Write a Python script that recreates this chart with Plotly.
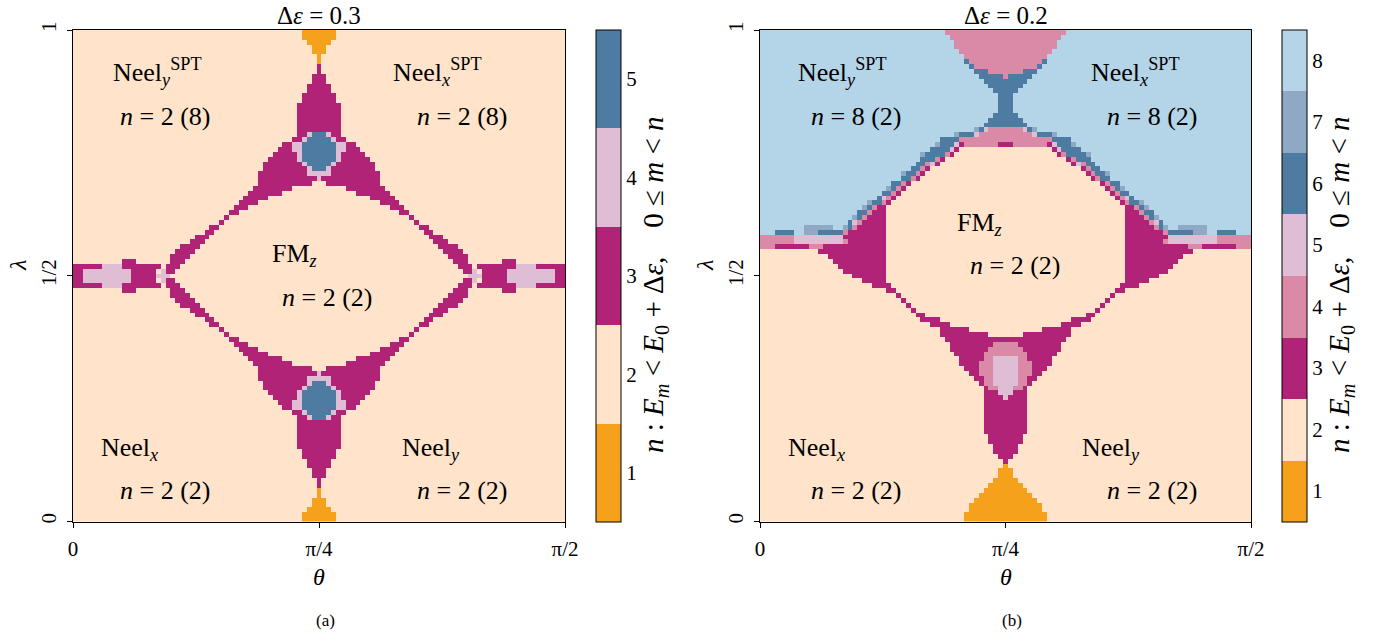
import numpy as np
import plotly.graph_objects as go

# ---------------- data (run-length rows, top row = lambda 1, "value x count") -------------
N_CELLS = 101
THETA_MAX = np.pi / 2

A_ROWS = [
    "2x47 1x7 2x47", "2x47 1x7 2x47", "2x48 1x5 2x48", "2x49 1x3 2x49", "2x49 1x3 2x49",
    "2x50 1x1 2x50", "2x50 1x1 2x50", "2x50 3x1 2x50", "2x50 3x1 2x50", "2x49 3x3 2x49",
    "2x49 3x3 2x49", "2x48 3x5 2x48", "2x48 3x5 2x48", "2x47 3x7 2x47", "2x47 3x7 2x47",
    "2x46 3x9 2x46", "2x46 3x9 2x46", "2x46 3x9 2x46", "2x46 3x9 2x46", "2x46 3x9 2x46",
    "2x46 3x9 2x46",
    "2x46 3x2 4x1 5x3 4x1 3x2 2x46",
    "2x45 3x2 4x1 5x5 4x1 3x2 2x45",
    "2x43 3x2 4x2 5x7 4x2 3x2 2x43",
    "2x42 3x3 4x2 5x7 4x2 3x3 2x42",
    "2x41 3x5 4x1 5x7 4x1 3x5 2x41",
    "2x40 3x6 4x1 5x7 4x1 3x6 2x40",
    "2x39 3x8 4x1 5x5 4x1 3x8 2x39",
    "2x39 3x9 4x1 5x3 4x1 3x9 2x39",
    "2x38 3x10 4x5 3x10 2x38",
    "2x38 3x12 4x1 3x12 2x38",
    "2x38 3x11 2x3 3x11 2x38",
    "2x37 3x8 2x11 3x8 2x37",
    "2x36 3x7 2x15 3x7 2x36",
    "2x35 3x5 2x21 3x5 2x35",
    "2x34 3x4 2x25 3x4 2x34",
    "2x33 3x3 2x29 3x3 2x33",
    "2x32 3x2 2x33 3x2 2x32",
    "2x31 3x1 2x37 3x1 2x31",
    "2x30 3x1 2x39 3x1 2x30",
    "2x28 3x2 2x41 3x2 2x28",
    "2x27 3x2 2x43 3x2 2x27",
    "2x25 3x3 2x45 3x3 2x25",
    "2x24 3x3 2x47 3x3 2x24",
    "2x22 3x4 2x49 3x4 2x22",
    "2x21 3x4 2x51 3x4 2x21",
    "2x20 3x4 2x53 3x4 2x20",
    "2x10 3x3 2x7 3x3 2x55 3x3 2x7 3x3 2x10",
    "3x6 4x4 3x8 2x1 3x3 2x57 3x3 2x1 3x8 4x4 3x6",
    "3x2 4x10 3x5 2x1 4x1 3x2 2x59 3x2 4x1 2x1 3x5 4x10 3x2",
    "3x2 4x10 3x5 4x3 2x61 4x3 3x5 4x10 3x2",
    "3x2 4x10 3x5 2x1 4x1 3x2 2x59 3x2 4x1 2x1 3x5 4x10 3x2",
    "3x6 4x4 3x8 2x1 3x3 2x57 3x3 2x1 3x8 4x4 3x6",
    "2x10 3x3 2x7 3x3 2x55 3x3 2x7 3x3 2x10",
    "2x20 3x4 2x53 3x4 2x20",
    "2x21 3x4 2x51 3x4 2x21",
    "2x22 3x4 2x49 3x4 2x22",
    "2x24 3x3 2x47 3x3 2x24",
    "2x25 3x3 2x45 3x3 2x25",
    "2x27 3x2 2x43 3x2 2x27",
    "2x28 3x2 2x41 3x2 2x28",
    "2x30 3x1 2x39 3x1 2x30",
    "2x31 3x1 2x37 3x1 2x31",
    "2x32 3x2 2x33 3x2 2x32",
    "2x33 3x3 2x29 3x3 2x33",
    "2x34 3x4 2x25 3x4 2x34",
    "2x35 3x5 2x21 3x5 2x35",
    "2x36 3x7 2x15 3x7 2x36",
    "2x37 3x8 2x11 3x8 2x37",
    "2x38 3x11 2x3 3x11 2x38",
    "2x38 3x12 4x1 3x12 2x38",
    "2x38 3x10 4x5 3x10 2x38",
    "2x39 3x9 4x1 5x3 4x1 3x9 2x39",
    "2x39 3x8 4x1 5x5 4x1 3x8 2x39",
    "2x40 3x6 4x1 5x7 4x1 3x6 2x40",
    "2x41 3x5 4x1 5x7 4x1 3x5 2x41",
    "2x42 3x3 4x2 5x7 4x2 3x3 2x42",
    "2x43 3x2 4x2 5x7 4x2 3x2 2x43",
    "2x45 3x2 4x1 5x5 4x1 3x2 2x45",
    "2x46 3x2 4x1 5x3 4x1 3x2 2x46",
    "2x46 3x9 2x46", "2x46 3x9 2x46", "2x46 3x9 2x46", "2x46 3x9 2x46", "2x46 3x9 2x46",
    "2x46 3x9 2x46",
    "2x47 3x7 2x47", "2x47 3x7 2x47", "2x48 3x5 2x48", "2x48 3x5 2x48", "2x49 3x3 2x49",
    "2x49 3x3 2x49", "2x50 3x1 2x50", "2x50 3x1 2x50", "2x50 1x1 2x50", "2x50 1x1 2x50",
    "2x49 1x3 2x49", "2x49 1x3 2x49", "2x48 1x5 2x48", "2x47 1x7 2x47", "2x47 1x7 2x47",
]

B_ROWS = [
    "8x38 4x25 8x38", "8x39 4x23 8x39", "8x40 4x21 8x40", "8x40 4x21 8x40", "8x41 4x19 8x41",
    "8x42 4x17 8x42",
    "8x42 6x1 4x15 6x1 8x42",
    "8x43 6x1 4x13 6x1 8x43",
    "8x44 6x3 4x7 6x3 8x44",
    "8x45 6x5 4x1 6x5 8x45",
    "8x46 6x9 8x46", "8x47 6x7 8x47", "8x48 6x5 8x48",
    "8x49 6x3 8x49", "8x49 6x3 8x49", "8x49 6x3 8x49", "8x49 6x3 8x49",
    "8x48 6x5 8x48", "8x47 6x7 8x47", "8x46 6x9 8x46",
    "8x44 7x1 6x1 5x1 4x7 5x1 6x1 7x1 8x44",
    "8x40 7x1 6x3 5x1 4x11 5x1 6x3 7x1 8x40",
    "8x37 6x4 4x19 6x4 8x37",
    "8x36 7x1 6x3 5x1 3x1 4x7 3x3 4x7 3x1 5x1 6x3 7x1 8x36",
    "8x35 6x4 5x1 3x1 2x19 3x1 5x1 6x4 8x35",
    "8x33 7x1 6x4 4x1 3x1 2x21 3x1 4x1 6x4 7x1 8x33",
    "8x33 6x3 4x1 3x1 2x25 3x1 4x1 6x3 8x33",
    "8x32 6x2 4x1 5x1 3x1 2x27 3x1 5x1 4x1 6x2 8x32",
    "8x31 6x2 4x1 3x1 2x31 3x1 4x1 6x2 8x31",
    "8x29 7x1 6x2 4x1 3x1 2x33 3x1 4x1 6x2 7x1 8x29",
    "8x29 6x2 4x1 3x1 2x35 3x1 4x1 6x2 8x29",
    "8x27 6x2 4x1 3x1 2x39 3x1 4x1 6x2 8x27",
    "8x26 7x1 6x1 4x1 3x1 2x41 3x1 4x1 6x1 7x1 8x26",
    "8x25 6x2 4x1 3x1 2x43 3x1 4x1 6x2 8x25",
    "8x24 6x1 5x1 4x1 3x1 2x45 3x1 4x1 5x1 6x1 8x24",
    "8x22 7x1 6x2 4x1 3x1 2x47 3x1 4x1 6x2 7x1 8x22",
    "8x21 7x1 6x1 4x1 3x2 2x49 3x2 4x1 6x1 7x1 8x21",
    "8x20 6x2 4x1 3x3 2x49 3x3 4x1 6x2 8x20",
    "8x19 7x1 6x1 4x1 3x4 2x49 3x4 4x1 6x1 7x1 8x19",
    "8x18 6x1 5x1 4x1 3x5 2x49 3x5 4x1 5x1 6x1 8x18",
    "8x9 7x6 8x2 7x1 6x1 4x1 3x6 2x49 3x6 4x1 6x1 7x1 8x2 7x6 8x9",
    "8x3 6x4 8x2 7x3 6x5 4x1 3x8 2x49 3x8 4x1 6x5 7x3 8x2 6x4 8x3",
    "4x7 5x10 3x9 2x49 3x9 5x10 4x7",
    "4x7 5x10 4x1 3x8 2x49 3x8 4x1 5x10 4x7",
    "4x3 3x7 4x3 3x13 2x49 3x13 4x3 3x7 4x3",
    "2x12 3x14 2x49 3x14 2x12",
    "2x14 3x12 2x49 3x12 2x14",
    "2x15 3x11 2x49 3x11 2x15",
    "2x16 3x10 2x49 3x10 2x16",
    "2x17 3x9 2x49 3x9 2x17",
    "2x19 3x7 2x49 3x7 2x19",
    "2x21 3x5 2x49 3x5 2x21",
    "2x23 3x4 2x47 3x4 2x23",
    "2x26 3x2 2x45 3x2 2x26",
    "2x28 3x1 2x43 3x1 2x28",
    "2x29 3x1 2x41 3x1 2x29",
    "2x30 3x1 2x39 3x1 2x30",
    "2x31 3x1 2x37 3x1 2x31",
    "2x32 3x2 2x33 3x2 2x32",
    "2x33 3x4 2x27 3x4 2x33",
    "2x35 3x4 2x23 3x4 2x35",
    "2x37 3x6 2x15 3x6 2x37",
    "2x37 3x10 2x7 3x10 2x37",
    "2x38 3x25 2x38",
    "2x39 3x9 4x5 3x9 2x39",
    "2x39 3x8 4x7 3x8 2x39",
    "2x40 3x6 4x9 3x6 2x40",
    "2x41 3x5 4x2 5x5 4x2 3x5 2x41",
    "2x41 3x4 4x3 5x5 4x3 3x4 2x41",
    "2x42 3x3 4x3 5x5 4x3 3x3 2x42",
    "2x43 3x2 4x3 5x5 4x3 3x2 2x43",
    "2x44 3x2 4x2 5x5 4x2 3x2 2x44",
    "2x45 3x1 4x2 5x5 4x2 3x1 2x45",
    "2x46 3x1 4x2 5x3 4x2 3x1 2x46",
    "2x46 3x3 5x3 3x3 2x46",
    "2x46 3x4 5x1 3x4 2x46",
    "2x46 3x9 2x46", "2x46 3x9 2x46", "2x46 3x9 2x46", "2x46 3x9 2x46", "2x46 3x9 2x46",
    "2x46 3x9 2x46", "2x46 3x9 2x46",
    "2x47 3x7 2x47", "2x47 3x7 2x47",
    "2x48 3x5 2x48", "2x48 3x5 2x48",
    "2x49 3x3 2x49",
    "2x50 3x1 2x50",
    "2x50 1x1 2x50",
    "2x49 1x3 2x49", "2x49 1x3 2x49",
    "2x48 1x5 2x48",
    "2x47 1x7 2x47",
    "2x46 1x9 2x46",
    "2x45 1x11 2x45",
    "2x44 1x13 2x44",
    "2x43 1x15 2x43", "2x43 1x15 2x43",
    "2x42 1x17 2x42", "2x42 1x17 2x42",
]

A_COLORS = ["#f6a11c", "#ffe4cb", "#b02377", "#dfbdd4", "#4e7ba2"]
B_COLORS = ["#f6a11c", "#ffe4cb", "#b02377", "#da89a6", "#dfbdd4", "#4e7ba2", "#8fa8c4", "#b4d4e8"]
A_TICKS = ["1", "2", "3", "4", "5"]
B_TICKS = ["1", "2", "3", "4", "5", "6", "7", "8"]

X_TICKVALS = [0, np.pi / 4, np.pi / 2]
X_TICKTEXT = ["0", "π/4", "π/2"]
Y_TICKVALS = [0, 0.5, 1]
Y_TICKTEXT = ["0", "1/2", "1"]

TITLES = ["Δ<i>ε</i> = 0.3", "Δ<i>ε</i> = 0.2"]
CAPTIONS = ["(a)", "(b)"]
CB_TITLE = ("<i>n</i> : <i>E<sub>m</sub></i> < <i>E</i><sub>0</sub> + Δ<i>ε</i>,"
            "&nbsp;&nbsp;&nbsp;&nbsp;0 ≤ <i>m</i> < <i>n</i>")

A_LABELS = [
    ("Neel<sub><i>y</i></sub><sup>SPT</sup>", 157, 72),
    ("<i>n</i> = 2 (8)", 165, 116),
    ("Neel<sub><i>x</i></sub><sup>SPT</sup>", 437, 72),
    ("<i>n</i> = 2 (8)", 462, 116),
    ("FM<sub><i>z</i></sub>", 294, 255),
    ("<i>n</i> = 2 (2)", 327, 297),
    ("Neel<sub><i>x</i></sub>", 129, 449),
    ("<i>n</i> = 2 (2)", 165, 490),
    ("Neel<sub><i>y</i></sub>", 431, 449),
    ("<i>n</i> = 2 (2)", 462, 490),
]
B_LABELS = [
    ("Neel<sub><i>y</i></sub><sup>SPT</sup>", 842, 72),
    ("<i>n</i> = 8 (2)", 856, 116),
    ("Neel<sub><i>x</i></sub><sup>SPT</sup>", 1135, 72),
    ("<i>n</i> = 8 (2)", 1152, 116),
    ("FM<sub><i>z</i></sub>", 979, 224),
    ("<i>n</i> = 2 (2)", 1015, 266),
    ("Neel<sub><i>x</i></sub>", 816, 449),
    ("<i>n</i> = 2 (2)", 856, 490),
    ("Neel<sub><i>y</i></sub>", 1111, 449),
    ("<i>n</i> = 2 (2)", 1152, 490),
]

# ---------------- helpers ----------------
W, H = 1391, 642
FONT = "Liberation Serif"


def decode(rows):
    grid = []
    for r in rows:
        row = []
        for tok in r.split():
            v, n = tok.split("x")
            row += [int(v)] * int(n)
        assert len(row) == N_CELLS, (r, len(row))
        grid.append(row)
    assert len(grid) == N_CELLS
    return grid[::-1]  # bottom row first (lambda = 0)


def stepped(colors):
    k = len(colors)
    cs = []
    for i, c in enumerate(colors):
        cs.append([i / k, c])
        cs.append([(i + 1) / k, c])
    return cs


def px(x):
    return x / W


def py(y):
    return 1 - y / H


PANELS = [
    dict(x0=73, x1=565, cb=596, cbt=655, grid=decode(A_ROWS), colors=A_COLORS, ticks=A_TICKS,
         labels=A_LABELS),
    dict(x0=760, x1=1251, cb=1282, cbt=1341, grid=decode(B_ROWS), colors=B_COLORS, ticks=B_TICKS,
         labels=B_LABELS),
]
Y_TOP, Y_BOT = 30, 521.5

fig = go.Figure()
annotations = []
for i, p in enumerate(PANELS):
    ax = "" if i == 0 else "2"
    k = len(p["colors"])
    fig.add_trace(go.Heatmap(
        z=p["grid"],
        x0=THETA_MAX / N_CELLS / 2, dx=THETA_MAX / N_CELLS,
        y0=1 / N_CELLS / 2, dy=1 / N_CELLS,
        colorscale=stepped(p["colors"]), zmin=0.5, zmax=k + 0.5,
        xaxis="x" + ax, yaxis="y" + ax, hoverinfo="skip",
        colorbar=dict(
            x=px(p["cb"]), xanchor="left", xpad=0, ypad=0,
            y=(py(Y_TOP) + py(Y_BOT)) / 2, yanchor="middle",
            len=Y_BOT - Y_TOP, lenmode="pixels", thickness=25, thicknessmode="pixels",
            outlinewidth=1, outlinecolor="black",
            tickvals=list(range(1, k + 1)), ticktext=p["ticks"], ticks="",
            tickfont=dict(family=FONT, size=21, color="black"),
        ),
    ))
    common = dict(showline=True, linecolor="black", linewidth=1, mirror=True,
                  ticks="outside", ticklen=5, tickcolor="black", showgrid=False, zeroline=False,
                  automargin=False,
                  tickfont=dict(family=FONT, size=21, color="black"), ticklabelstandoff=3)
    fig.update_layout(**{
        "xaxis" + ax: dict(domain=[px(p["x0"]), px(p["x1"])], range=[0, THETA_MAX],
                           tickvals=X_TICKVALS, ticktext=X_TICKTEXT, anchor="y" + ax, **common),
        "yaxis" + ax: dict(domain=[py(Y_BOT), py(Y_TOP)], range=[0, 1],
                           tickvals=Y_TICKVALS, ticktext=Y_TICKTEXT, tickangle=-90,
                           anchor="x" + ax, **common),
    })
    cx = (p["x0"] + p["x1"]) / 2
    annotations += [
        dict(text=TITLES[i], x=px(cx), y=1, xref="paper", yref="paper", showarrow=False,
             font=dict(family=FONT, size=25), xanchor="center", yanchor="top"),
        dict(text="<i>θ</i>", x=px(cx), y=py(577), xref="paper", yref="paper", showarrow=False,
             font=dict(family=FONT, size=24), xanchor="center", yanchor="middle"),
        dict(text="<i>λ</i>", x=px(p["x0"] - 55), y=py(266), xref="paper", yref="paper",
             showarrow=False, textangle=-90,
             font=dict(family=FONT, size=24), xanchor="center", yanchor="middle"),
        dict(text=CAPTIONS[i], x=px(cx + 6), y=py(620), xref="paper", yref="paper", showarrow=False,
             font=dict(family=FONT, size=17), xanchor="center", yanchor="middle"),
        dict(text=CB_TITLE, x=px(p["cbt"]), y=py(285), xref="paper", yref="paper",
             showarrow=False, textangle=-90,
             font=dict(family=FONT, size=29), xanchor="center", yanchor="middle"),
    ]
    for text, lx, ly in p["labels"]:
        annotations.append(dict(text=text, x=px(lx), y=py(ly), xref="paper", yref="paper",
                                showarrow=False, font=dict(family=FONT, size=26),
                                xanchor="center", yanchor="middle"))

fig.update_layout(
    width=W, height=H, autosize=False,
    margin=dict(l=0, r=0, t=0, b=0, pad=0, autoexpand=False),
    paper_bgcolor="white", plot_bgcolor="white",
    font=dict(family=FONT, color="black"),
    showlegend=False,
    annotations=annotations,
)

fig.write_html("out.html", config={"displayModeBar": False},
               post_script="document.body.style.margin='0';document.body.style.overflow='hidden';")
